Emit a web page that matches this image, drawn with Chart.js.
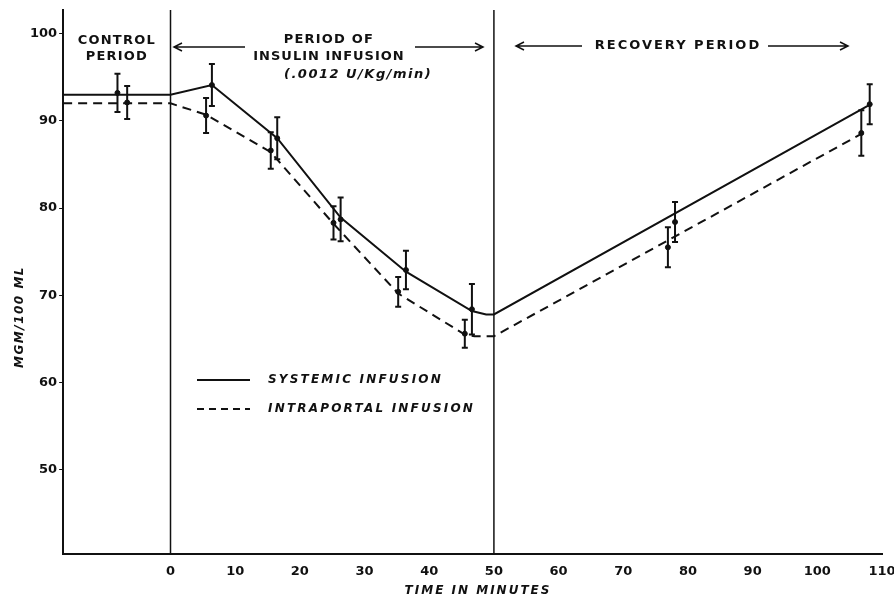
<!DOCTYPE html>
<html>
<head>
<meta charset="utf-8">
<script src="https://cdn.jsdelivr.net/npm/chart.js@4.4.1/dist/chart.umd.min.js"></script>
<style>
  html, body { margin: 0; padding: 0; background: #fff; }
  canvas { display: block; }
</style>
</head>
<body>
<canvas id="glucoseChart" width="894" height="601"></canvas>
<script>
'use strict'

// axis range and ticks
const xMin = -16.6, xMax = 110;
const yMin = 40.3, yMax = 102.7;
const xTicks = [0, 10, 20, 30, 40, 50, 60, 70, 80, 90, 100, 110];
const yTicks = [50, 60, 70, 80, 90, 100];
const periodBounds = [0, 50];

// systemic infusion (solid) - measured means and SE
const sysX = [-8.2, 6.4, 16.5, 26.3, 36.4, 46.6, 78.0, 108.1];
const sysY = [93.2, 94.1, 88.0, 78.7, 72.9, 68.4, 78.4, 91.9];
const sysErr = [2.2, 2.4, 2.4, 2.5, 2.2, 2.9, 2.3, 2.3];

// intraportal infusion (dashed)
const ipX = [-6.7, 5.5, 15.5, 25.2, 35.2, 45.5, 76.9, 106.8];
const ipY = [92.1, 90.6, 86.6, 78.3, 70.4, 65.6, 75.5, 88.6];
const ipErr = [1.9, 2.0, 2.1, 1.9, 1.7, 1.6, 2.3, 2.6];

// drawn curves
const sysLineX = [-16.6, 0, 6.4, 16.5, 26.3, 36.4, 46.6, 48.8, 50, 108];
const sysLineY = [93, 93, 94.1, 88.0, 78.9, 72.7, 68.2, 67.8, 67.8, 91.8];
const ipLineX = [-16.6, 0, 5.5, 15.5, 25.2, 35.2, 45.5, 47, 50, 106.8];
const ipLineY = [92, 92, 90.7, 86.4, 78.2, 70.2, 65.5, 65.3, 65.3, 88.5];

const legendLabels = ['SYSTEMIC INFUSION', 'INTRAPORTAL INFUSION'];
const xTitle = 'TIME IN MINUTES';
const yTitle = 'MGM/100 ML';
const ink = '#111';
const fontFam = '"DejaVu Sans", sans-serif';

const zip = (xs, ys) => xs.map((x, i) => ({ x: x, y: ys[i] }));

const datasets = [
    { data: zip(sysLineX, sysLineY), showLine: true, borderColor: ink, borderWidth: 2, pointRadius: 0 },
    { data: zip(ipLineX, ipLineY), showLine: true, borderColor: ink, borderWidth: 2, borderDash: [9, 6], pointRadius: 0 },
    { data: zip(sysX, sysY), showLine: false, pointRadius: 2.5, backgroundColor: ink, borderColor: ink, errs: sysErr },
    { data: zip(ipX, ipY), showLine: false, pointRadius: 2.5, backgroundColor: ink, borderColor: ink, errs: ipErr }
];
periodBounds.forEach(b => {
    datasets.push({ data: [{ x: b, y: yMin }, { x: b, y: yMax }], showLine: true, borderColor: ink, borderWidth: 1.5, pointRadius: 0 });
});

function txt(ctx, s, x, y, size, italic, spacing, align) {
    ctx.save();
    ctx.font = (italic ? 'italic ' : '') + 'bold ' + size + 'px ' + fontFam;
    ctx.letterSpacing = spacing + 'px';
    ctx.textAlign = align || 'center';
    ctx.textBaseline = 'middle';
    ctx.fillStyle = ink;
    ctx.fillText(s, x, y);
    ctx.restore();
}

function arrow(ctx, x1, x2, y) {
    ctx.save();
    ctx.strokeStyle = ink;
    ctx.lineWidth = 1.5;
    ctx.beginPath();
    ctx.moveTo(x1, y); ctx.lineTo(x2, y);
    const d = x2 > x1 ? -1 : 1;
    ctx.moveTo(x2 + d * 8, y - 4); ctx.lineTo(x2, y); ctx.lineTo(x2 + d * 8, y + 4);
    ctx.stroke();
    ctx.restore();
}

const extras = {
    id: 'extras',
    afterDatasetsDraw(chart) {
        const ctx = chart.ctx;
        const xs = chart.scales.x, ys = chart.scales.y;
        // error bars
        chart.data.datasets.forEach(ds => {
            if (!ds.errs) return;
            ctx.save();
            ctx.strokeStyle = ink;
            ctx.lineWidth = 2;
            ds.data.forEach((p, i) => {
                const px = xs.getPixelForValue(p.x);
                const top = ys.getPixelForValue(p.y + ds.errs[i]);
                const bot = ys.getPixelForValue(p.y - ds.errs[i]);
                ctx.beginPath();
                ctx.moveTo(px, top); ctx.lineTo(px, bot);
                ctx.moveTo(px - 3, top); ctx.lineTo(px + 3, top);
                ctx.moveTo(px - 3, bot); ctx.lineTo(px + 3, bot);
                ctx.stroke();
            });
            ctx.restore();
        });

        // period headings
        const cx = xs.getPixelForValue((xMin + 0) / 2);
        txt(ctx, 'CONTROL', cx, 41, 13, false, 1.2);
        txt(ctx, 'PERIOD', cx, 57, 13, false, 1.2);
        const ix = xs.getPixelForValue(24.5);
        txt(ctx, 'PERIOD OF', ix, 40, 13, false, 1.2);
        txt(ctx, 'INSULIN INFUSION', ix, 57, 13, false, 1);
        txt(ctx, '(.0012 U/Kg/min)', xs.getPixelForValue(29), 75, 13, true, 1.5);
        arrow(ctx, 245, 174, 47);
        arrow(ctx, 415, 483, 47);
        txt(ctx, 'RECOVERY PERIOD', 678, 46, 13, false, 2);
        arrow(ctx, 582, 516, 46);
        arrow(ctx, 768, 848, 46);

        // legend
        const lx = 197, lw = 53;
        ctx.save();
        ctx.strokeStyle = ink;
        ctx.lineWidth = 2;
        ctx.beginPath(); ctx.moveTo(lx, 380); ctx.lineTo(lx + lw, 380); ctx.stroke();
        ctx.setLineDash([7, 5]);
        ctx.beginPath(); ctx.moveTo(lx, 409); ctx.lineTo(lx + lw, 409); ctx.stroke();
        ctx.restore();
        txt(ctx, legendLabels[0], 268, 380, 12, true, 2.2, 'left');
        txt(ctx, legendLabels[1], 268, 409, 12, true, 2.2, 'left');

        // axis titles
        txt(ctx, xTitle, 478, 591, 12, true, 2);
        ctx.save();
        ctx.translate(20, 317);
        ctx.rotate(-Math.PI / 2);
        txt(ctx, yTitle, 0, 0, 12, true, 1.5);
        ctx.restore();
    }
};

const tickFont = { family: fontFam, size: 13, weight: 'bold' };

new Chart(document.getElementById('glucoseChart').getContext('2d'), {
    type: 'scatter',
    data: { datasets: datasets },
    plugins: [extras],
    options: {
        responsive: false,
        animation: false,
        layout: { padding: { top: 10, right: 12, left: 28, bottom: 21 } },
        plugins: { legend: { display: false }, tooltip: { enabled: false } },
        scales: {
            x: {
                type: 'linear', min: xMin, max: xMax,
                afterBuildTicks: s => { s.ticks = xTicks.map(v => ({ value: v })); },
                afterFit: s => { s.paddingRight = 0; },
                grid: { display: false },
                border: { display: true, color: ink, width: 2 },
                ticks: { color: ink, font: tickFont, padding: 1, maxRotation: 0 }
            },
            y: {
                type: 'linear', min: yMin, max: yMax,
                afterBuildTicks: s => { s.ticks = yTicks.map(v => ({ value: v })); },
                grid: { drawOnChartArea: false, tickLength: 4, color: ink },
                border: { display: true, color: ink, width: 2 },
                ticks: { color: ink, font: tickFont, padding: 2 }
            }
        }
    }
});
</script>
</body>
</html>
